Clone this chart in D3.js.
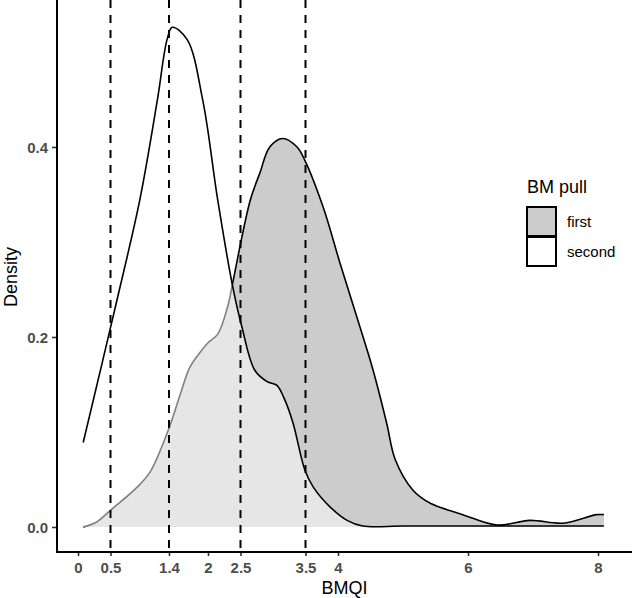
<!DOCTYPE html>
<html>
<head>
<meta charset="utf-8">
<script src="https://cdn.jsdelivr.net/npm/d3@7"></script>
<style>
  body { margin: 0; background: #fff; }
  svg { display: block; font-family: "Liberation Sans", Arial, sans-serif; }
  .tick-label { font-size: 15px; font-weight: bold; fill: #4d4d4d; }
</style>
</head>
<body>
<div id="chart"></div>
<script>
// density curves
const firstX = [0.08, 0.28, 0.49, 0.91, 1.11, 1.40, 1.57, 1.72, 1.88, 2.00, 2.15, 2.31, 2.38, 2.65, 2.80, 2.95, 3.15, 3.37, 3.49, 3.77, 4.03, 4.29, 4.54, 4.75, 4.88, 5.15, 5.42, 5.92, 6.45, 6.95, 7.46, 7.98, 8.09];
const firstY = [0.000, 0.005, 0.017, 0.042, 0.058, 0.104, 0.139, 0.168, 0.184, 0.194, 0.203, 0.234, 0.257, 0.344, 0.373, 0.400, 0.409, 0.400, 0.386, 0.337, 0.278, 0.221, 0.165, 0.109, 0.071, 0.039, 0.025, 0.013, 0.002, 0.007, 0.004, 0.013, 0.013];

const secondX = [0.08, 0.60, 0.95, 1.22, 1.37, 1.45, 1.68, 1.92, 2.15, 2.38, 2.52, 2.72, 2.91, 3.06, 3.18, 3.31, 3.49, 3.62, 3.88, 4.14, 4.38, 5.00, 6.00, 7.00, 8.09];
const secondY = [0.089, 0.239, 0.344, 0.449, 0.513, 0.526, 0.513, 0.449, 0.344, 0.253, 0.211, 0.165, 0.153, 0.149, 0.134, 0.109, 0.060, 0.042, 0.021, 0.007, 0.001, 0.001, 0.001, 0.001, 0.001];

const cutoffs = [0.5, 1.4, 2.5, 3.5];
const xTicks = [0, 0.5, 1.4, 2, 2.5, 3.5, 4, 6, 8];
const yTicks = [0, 0.2, 0.4];
const groups = ['first', 'second'];

const width = 633, height = 598;
const panel = { left: 57, right: 632, top: 2, bottom: 552 };

const x = d3.scaleLinear().domain([0, 8]).range([78, 598]);
const y = d3.scaleLinear().domain([0, 0.4]).range([527, 147]);

const svg = d3.select('#chart').append('svg')
  .attr('width', width)
  .attr('height', height);

const toPoints = (xs, ys) => xs.map((v, i) => [v, ys[i]]);
const firstData = toPoints(firstX, firstY);
const secondData = toPoints(secondX, secondY);

const curve = d3.curveCatmullRom.alpha(0.5);

const area = d3.area()
  .x(d => x(d[0]))
  .y0(y(0))
  .y1(d => Math.min(y(d[1]), y(0)))
  .curve(curve);

const line = d3.line()
  .x(d => x(d[0]))
  .y(d => y(d[1]))
  .curve(curve);

// first group
svg.append('path')
  .attr('d', area(firstData))
  .attr('fill', '#cccccc');
svg.append('path')
  .attr('d', line(firstData))
  .attr('fill', 'none')
  .attr('stroke', '#000')
  .attr('stroke-width', 1.6);

// second group, white fill half transparent
svg.append('path')
  .attr('d', area(secondData))
  .attr('fill', '#fff')
  .attr('fill-opacity', 0.5);
svg.append('path')
  .attr('d', line(secondData))
  .attr('fill', 'none')
  .attr('stroke', '#000')
  .attr('stroke-width', 1.6);

// cut-off lines
svg.selectAll('.cut')
  .data(cutoffs)
  .enter().append('line')
  .attr('class', 'cut')
  .attr('x1', d => x(d)).attr('x2', d => x(d))
  .attr('y1', panel.top - 2).attr('y2', panel.bottom)
  .attr('stroke', '#000')
  .attr('stroke-width', 2)
  .attr('stroke-dasharray', '8,7');

// axes
const xAxis = d3.axisBottom(x)
  .tickValues(xTicks)
  .tickSize(4)
  .tickPadding(6)
  .tickFormat(d => d);

const yAxis = d3.axisLeft(y)
  .tickValues(yTicks)
  .tickSize(5)
  .tickPadding(4)
  .tickFormat(d3.format('.1f'));

const gx = svg.append('g')
  .attr('transform', `translate(0,${panel.bottom})`)
  .call(xAxis);
const gy = svg.append('g')
  .attr('transform', `translate(${panel.left},0)`)
  .call(yAxis);

[gx, gy].forEach(g => {
  g.select('.domain').remove();
  g.selectAll('.tick line').attr('stroke', '#333').attr('stroke-width', 1.6);
  g.selectAll('.tick text')
    .attr('class', 'tick-label')
    .attr('fill', null);
});
gy.selectAll('.tick text').attr('dy', '0.36em');

svg.append('line')
  .attr('x1', panel.left).attr('x2', panel.right)
  .attr('y1', panel.bottom).attr('y2', panel.bottom)
  .attr('stroke', '#000').attr('stroke-width', 2);
svg.append('line')
  .attr('x1', panel.left).attr('x2', panel.left)
  .attr('y1', 0).attr('y2', panel.bottom + 1)
  .attr('stroke', '#000').attr('stroke-width', 2);

// axis titles
svg.append('text')
  .attr('x', (panel.left + panel.right) / 2)
  .attr('y', 594)
  .attr('text-anchor', 'middle')
  .style('font-size', '18px')
  .text('BMQI');

svg.append('text')
  .attr('transform', `translate(17,${(panel.top + panel.bottom) / 2}) rotate(-90)`)
  .attr('text-anchor', 'middle')
  .style('font-size', '18px')
  .text('Density');

// legend
const legend = svg.append('g').attr('transform', 'translate(527,0)');
legend.append('text')
  .attr('x', 0).attr('y', 193)
  .style('font-size', '18px')
  .text('BM pull');

const keyFill = { first: '#cccccc', second: '#ffffff' };
const keys = legend.selectAll('.key')
  .data(groups)
  .enter().append('g')
  .attr('class', 'key')
  .attr('transform', (d, i) => `translate(0,${207 + i * 30})`);

keys.append('rect')
  .attr('width', 29).attr('height', 29)
  .attr('fill', d => keyFill[d])
  .attr('stroke', '#000')
  .attr('stroke-width', 2);

keys.append('text')
  .attr('x', 40).attr('y', 15)
  .attr('dy', '0.35em')
  .style('font-size', '15px')
  .text(d => d);
</script>
</body>
</html>
